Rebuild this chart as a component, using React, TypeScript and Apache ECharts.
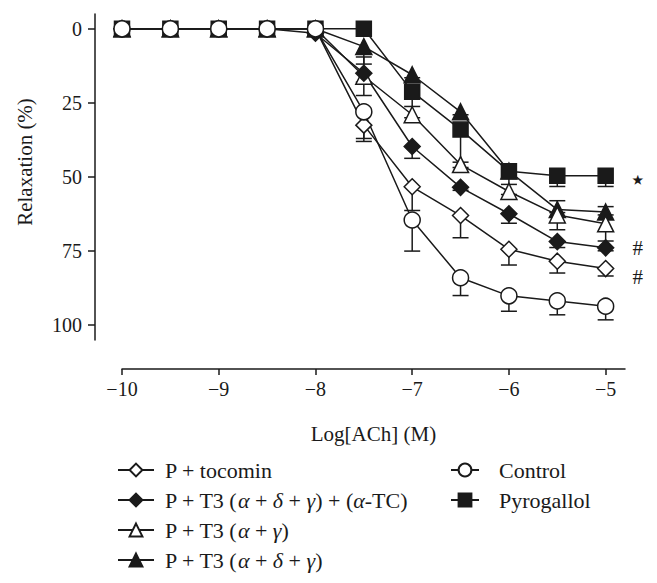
import React, { useEffect, useRef } from "react";
import * as echarts from "echarts";

// ---- data ----
const xValues = [-10, -9.5, -9, -8.5, -8, -7.5, -7, -6.5, -6, -5.5, -5];
const xTicks = [-10, -9, -8, -7, -6, -5];
const yTicks = [0, 25, 50, 75, 100];

const NAME_TOCOMIN = "P + tocomin";
const NAME_T3_ADG_TC = "P + T3 (α + δ + γ) + (α-TC)";
const NAME_T3_AG = "P + T3 (α + γ)";
const NAME_T3_ADG = "P + T3 (α + δ + γ)";
const NAME_CONTROL = "Control";
const NAME_PYRO = "Pyrogallol";

const tocomin = [0, 0, 0, 0, 0, 32.5, 53.3, 63, 74.4, 78.4, 80.9];
const tocominErr = [0, 0, 0, 0, 0, 5.5, 8, 7.5, 5.3, 4, 2.5];

const t3AdgTc = [0, 0, 0, 0, 1.5, 15, 39.7, 53.5, 62.4, 71.8, 73.9];
const t3AdgTcErr = [0, 0, 0, 0, 0, 3, 4, 1, 3.2, 2, 1];

const t3Ag = [0, 0, 0, 0, 0, 16, 29, 45.8, 54.9, 62.8, 65.8];
const t3AgErr = [0, 0, 0, 0, 0, 6.5, 1, 1, 1, 5, 5.8];
const t3AgErrUp = [0, 0, 0, 0, 0, 6.5, 0, 0, 0, 4.8, 5.8];

const t3Adg = [0, 0, 0, 0, 0, 6, 15.5, 28, 48, 61, 61.8];
const t3AdgErr = [0, 0, 0, 0, 0, 5.9, 1, 1, 0, 1, 1];

const control = [0, 0, 0, 0, 0, 28, 64.5, 84, 90.1, 91.8, 93.6];
const controlErr = [0, 0, 0, 0, 0, 9, 10.5, 6, 5.2, 4.7, 4.6];

const pyrogallol = [0, 0, 0, 0, 0, 0, 21.2, 34, 48.1, 49.6, 49.6];
const pyrogallolErr = [0, 0, 0, 0, 0, 0, 5, 11, 4.4, 3.6, 3.6];

const marks = { [NAME_PYRO]: "⋆", [NAME_T3_ADG_TC]: "#", [NAME_TOCOMIN]: "#" } as Record<string, string>;

const INK = "#1a1a1a";
const FONT = "'Liberation Serif', serif";
const FS_TICK = 20;
const FS_TITLE = 21;
const FS_LEG = 22;

type Def = {
  name: string;
  values: number[];
  errDown: number[];
  errUp?: number[];
  symbol: string;
  filled: boolean;
  size: number;
  markDy?: number;
};

// drawing order (first drawn at the bottom)
const defs: Def[] = [
  { name: NAME_T3_ADG, values: t3Adg, errDown: t3AdgErr, symbol: "triangle", filled: true, size: 16 },
  { name: NAME_T3_AG, values: t3Ag, errDown: t3AgErr, errUp: t3AgErrUp, symbol: "triangle", filled: false, size: 16 },
  { name: NAME_T3_ADG_TC, values: t3AdgTc, errDown: t3AdgTcErr, symbol: "diamond", filled: true, size: 16, markDy: 0 },
  { name: NAME_TOCOMIN, values: tocomin, errDown: tocominErr, symbol: "diamond", filled: false, size: 16, markDy: 8 },
  { name: NAME_PYRO, values: pyrogallol, errDown: pyrogallolErr, symbol: "rect", filled: true, size: 15, markDy: 4 },
  { name: NAME_CONTROL, values: control, errDown: controlErr, symbol: "circle", filled: false, size: 16 },
];

function richName(name: string): string {
  return name
    .split(/([αδγ])/)
    .filter((s) => s.length > 0)
    .map((s) => (/[αδγ]/.test(s) ? `{ital|${s}}` : `{rom|${s}}`))
    .join("");
}

const rich = {
  rom: { fontFamily: FONT, fontSize: FS_LEG, fontStyle: "normal", color: INK, lineHeight: 22 },
  ital: { fontFamily: FONT, fontSize: FS_LEG, fontStyle: "italic", color: INK, lineHeight: 22 },
};

export default function App() {
  const ref = useRef<HTMLDivElement>(null);

  useEffect(() => {
    if (!ref.current) return;
    const chart = echarts.init(ref.current, undefined, { renderer: "svg" });

    const errData: number[][] = [];
    defs.forEach((d) => {
      d.values.forEach((v, i) => {
        const dn = d.errDown[i] || 0;
        const up = d.errUp ? d.errUp[i] || 0 : 0;
        if (dn > 0 || up > 0) errData.push([xValues[i], v, dn, up]);
      });
    });

    const lineSeries = defs.map((d) => ({
      type: "line",
      name: d.name,
      z: 3,
      symbol: d.symbol,
      symbolSize: d.size,
      showAllSymbol: true,
      lineStyle: { color: INK, width: 1.5 },
      itemStyle: {
        color: d.filled ? INK : "#ffffff",
        borderColor: INK,
        borderWidth: 1.5,
      },
      emphasis: { disabled: true },
      data: d.values.map((v, i) => {
        const item: any = { value: [xValues[i], v] };
        const m = marks[d.name];
        if (m && i === d.values.length - 1) {
          item.label = {
            show: true,
            formatter: m,
            position: "inside",
            offset: [32, d.markDy || 0],
            fontFamily: m === "⋆" ? "DejaVu Sans" : FONT,
            fontSize: m === "⋆" ? 28 : FS_TITLE,
            color: INK,
            textBorderWidth: 0,
          };
        }
        return item;
      }),
    }));

    const option: any = {
      animation: false,
      backgroundColor: "#ffffff",
      textStyle: { fontFamily: FONT, color: INK },
      grid: { left: 122, right: 32, top: 14, bottom: 243, containLabel: false, outerBoundsMode: "none" },
      xAxis: {
        type: "value",
        min: -10,
        max: -4.8,
        offset: 29,
        position: "bottom",
        name: "Log[ACh] (M)",
        nameLocation: "middle",
        nameGap: 54,
        nameTextStyle: { fontFamily: FONT, fontSize: FS_TITLE, color: INK },
        axisLine: { show: true, onZero: false, lineStyle: { color: INK, width: 1.5 } },
        axisTick: { show: true, length: 6, lineStyle: { color: INK, width: 1.5 }, customValues: xTicks },
        axisLabel: {
          fontFamily: FONT,
          fontSize: FS_TICK,
          color: INK,
          margin: 10,
          customValues: xTicks,
          formatter: (v: number) => (v < 0 ? "\u2212" + Math.abs(v) : String(v)),
        },
        splitLine: { show: false },
      },
      yAxis: {
        type: "value",
        inverse: true,
        min: -5,
        max: 105,
        offset: 27,
        position: "left",
        axisLine: { show: true, onZero: false, lineStyle: { color: INK, width: 1.5 } },
        axisTick: { show: true, length: 7, lineStyle: { color: INK, width: 1.5 }, customValues: yTicks },
        axisLabel: { fontFamily: FONT, fontSize: FS_TICK, color: INK, margin: 13, customValues: yTicks },
        splitLine: { show: false },
      },
      legend: [
        {
          orient: "vertical",
          left: 117,
          top: 459,
          padding: 0,
          itemGap: 8,
          itemWidth: 36,
          itemHeight: 16,
          selectedMode: false,
          data: [NAME_TOCOMIN, NAME_T3_ADG_TC, NAME_T3_AG, NAME_T3_ADG],
          formatter: (n: string) => richName(n),
          textStyle: { fontFamily: FONT, fontSize: FS_LEG, color: INK, lineHeight: 22, padding: [0, 0, 0, 6], rich },
        },
        {
          orient: "vertical",
          left: 450,
          top: 459,
          padding: 0,
          itemGap: 8,
          itemWidth: 28,
          itemHeight: 16,
          selectedMode: false,
          data: [NAME_CONTROL, NAME_PYRO],
          formatter: (n: string) => richName(n),
          textStyle: { fontFamily: FONT, fontSize: FS_LEG, color: INK, lineHeight: 22, padding: [0, 0, 0, 15], rich },
        },
      ],
      graphic: [
        {
          type: "text",
          x: 25,
          y: 162,
          rotation: Math.PI / 2,
          style: {
            text: "Relaxation (%)",
            fontFamily: FONT,
            fontSize: FS_TITLE,
            fill: INK,
            textAlign: "center",
            textVerticalAlign: "middle",
          },
        },
      ],
      series: [
        {
          type: "custom",
          name: "errors",
          z: 2,
          silent: true,
          encode: { x: 0, y: 1 },
          data: errData,
          renderItem: (params: any, api: any) => {
            const x = api.value(0);
            const y = api.value(1);
            const dn = api.value(2);
            const up = api.value(3);
            const c = api.coord([x, y]);
            const style = { stroke: INK, lineWidth: 1.5, fill: "none" };
            const children: any[] = [];
            const add = (val: number) => {
              const p = api.coord([x, val]);
              children.push({ type: "line", shape: { x1: c[0], y1: c[1], x2: p[0], y2: p[1] }, style });
              children.push({ type: "line", shape: { x1: c[0] - 8, y1: p[1], x2: c[0] + 8, y2: p[1] }, style });
            };
            if (dn > 0) add(y + dn);
            if (up > 0) add(y - up);
            return { type: "group", children };
          },
        },
        ...lineSeries,
      ],
    };

    chart.setOption(option);
    return () => chart.dispose();
  }, []);

  return (
    <div
      ref={ref}
      style={{ position: "fixed", left: 0, top: 0, width: 657, height: 583, background: "#fff" }}
    />
  );
}
